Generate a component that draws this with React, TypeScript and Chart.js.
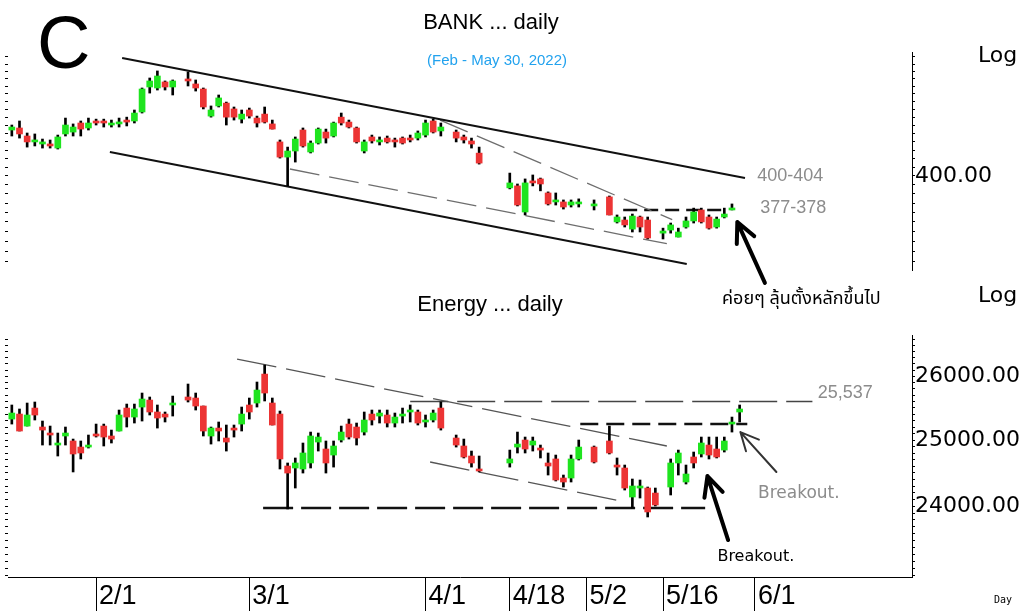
import React, { useEffect, useRef } from 'react';
import { Chart, registerables } from 'chart.js';

Chart.register(...registerables);

type OHLC = [number, number, number, number] | null; // open, high, low, close

// ---------- categories (weekday trading slots) ----------
const START = { y: 2022, m: 0, d: 17 };
const SLOT_COUNT = 118;
const tickLabels = ['2/1', '3/1', '4/1', '4/18', '5/2', '5/16', '6/1'];

// ---------- axis labels ----------
const bankAxisLabels = [400];
const energyAxisLabels = [24000, 25000, 26000];
const BANK_MIN = 340.8;
const BANK_MAX = 494.1;
const ENERGY_MIN = 22978;
const ENERGY_MAX = 26670;

// ---------- BANK daily OHLC ----------
const bankOHLC: OHLC[] = [
  [432.6, 436.3, 428.2, 434.8], [434.1, 439.3, 426.7, 429.7], [428.2, 430.4, 420.2, 423.9], [423.9, 429.7, 421.0, 425.3],
  [422.4, 426.0, 419.5, 423.9], [422.4, 425.3, 419.5, 421.0], [419.5, 428.9, 418.8, 427.5], [429.7, 441.5, 428.2, 436.3],
  [431.1, 437.1, 428.2, 434.8], [437.8, 439.3, 428.2, 433.3], [434.1, 441.5, 432.6, 437.8], [439.3, 440.7, 436.3, 437.8],
  [439.3, 440.7, 434.8, 437.8], [436.3, 440.0, 434.8, 437.1], [437.1, 441.5, 434.8, 438.5], [439.3, 442.2, 435.6, 438.5],
  [439.3, 447.6, 437.8, 445.3], [446.1, 464.7, 445.3, 463.9], [465.5, 472.7, 460.7, 470.3], [464.7, 478.4, 463.1, 474.3],
  [469.5, 470.3, 463.1, 465.5], [465.5, 471.1, 459.2, 470.3], null, [471.1, 477.6, 466.3, 470.3],
  [467.9, 471.1, 462.3, 464.7], [463.9, 464.7, 448.4, 449.9], [443.0, 450.7, 442.2, 447.6], [450.7, 459.2, 449.9, 456.9],
  [452.9, 453.7, 436.3, 442.2], [448.4, 449.9, 440.0, 442.2], [440.7, 447.6, 437.8, 444.5], [447.6, 449.1, 441.5, 443.0],
  [441.5, 443.0, 434.8, 437.8], [444.5, 449.9, 437.8, 438.5], [437.1, 440.0, 433.3, 433.3], [423.9, 425.3, 412.4, 413.1],
  [413.1, 420.2, 393.3, 417.4], [417.4, 427.5, 409.6, 426.0], [432.6, 434.1, 420.2, 421.0], [416.7, 424.6, 416.0, 423.1],
  [423.1, 434.1, 422.4, 433.3], [431.1, 433.3, 423.1, 426.7], [428.2, 438.5, 427.5, 437.8], [442.2, 445.3, 436.3, 437.8],
  [438.5, 440.0, 434.1, 434.8], [434.1, 434.8, 423.1, 423.9], [417.4, 425.3, 416.0, 423.9], [427.5, 428.9, 423.1, 424.6],
  [423.9, 427.5, 421.7, 425.3], [426.7, 428.2, 423.1, 423.9], [424.6, 426.7, 420.2, 423.9], [426.7, 427.5, 422.4, 423.1],
  [426.7, 428.9, 423.9, 425.3], [426.7, 431.9, 425.3, 430.4], [428.9, 440.0, 427.5, 437.8], [439.3, 440.7, 430.4, 431.1],
  [431.9, 437.8, 428.2, 434.8], null, [431.1, 432.6, 423.9, 426.7], [427.5, 428.9, 423.1, 425.3],
  [424.6, 426.7, 419.5, 422.4], [415.9, 420.2, 408.2, 408.9], null, null,
  null, [392.0, 402.0, 391.3, 395.3], [393.3, 394.6, 380.1, 380.7], [376.2, 398.0, 374.3, 395.3],
  [396.6, 400.7, 393.3, 395.3], [398.0, 398.6, 390.0, 394.6], [388.6, 389.3, 380.7, 381.4], [382.7, 388.6, 380.7, 384.0],
  [382.7, 384.0, 378.1, 379.4], [380.7, 384.0, 379.4, 382.7], [381.4, 384.7, 379.4, 382.0], null,
  [380.1, 384.0, 377.5, 381.4], null, [386.0, 386.6, 374.3, 374.3], [369.9, 374.3, 369.2, 373.0],
  [371.1, 373.0, 366.7, 368.0], [365.4, 374.9, 363.6, 373.6], [373.0, 373.6, 363.6, 366.7], [371.1, 373.0, 359.3, 359.9],
  null, [362.9, 366.0, 359.3, 364.2], [364.8, 369.2, 362.9, 368.0], [360.5, 366.0, 360.5, 363.6],
  [366.7, 373.0, 366.0, 370.5], [370.5, 378.7, 369.2, 376.2], [377.5, 378.7, 369.2, 369.9], [373.0, 374.3, 365.4, 366.0],
  [366.7, 373.0, 366.0, 371.7], [373.0, 378.7, 372.4, 374.9], [377.5, 381.4, 377.5, 378.7],
];

// ---------- ENERGY daily OHLC ----------
const energyOHLC: OHLC[] = [
  [25325, 25545, 25247, 25419], [25403, 25482, 25139, 25139], [25216, 25576, 25216, 25388], [25497, 25592, 25310, 25388],
  [25201, 25294, 24923, 25154], [25093, 25216, 24923, 25077], [24923, 25108, 24755, 24954], [25062, 25201, 24923, 25108],
  [24985, 25015, 24513, 24786], [24892, 24985, 24710, 24801], [24892, 25077, 24877, 24923], [25093, 25247, 25046, 25062],
  [25216, 25247, 24908, 25046], [25062, 25154, 24954, 25015], [25139, 25466, 25139, 25388], [25497, 25560, 25201, 25356],
  [25356, 25560, 25263, 25482], [25513, 25734, 25294, 25639], [25623, 25671, 25388, 25435], [25435, 25545, 25185, 25341],
  [25403, 25435, 25279, 25356], [25545, 25686, 25372, 25576], null, [25671, 25877, 25592, 25623],
  [25655, 25734, 25466, 25529], [25529, 25529, 25062, 25139], [25062, 25201, 24938, 25185], [25185, 25279, 24985, 25139],
  [25031, 25232, 24831, 24969], [25170, 25232, 25046, 25154], [25247, 25513, 25139, 25403], [25545, 25655, 25325, 25435],
  [25576, 25909, 25513, 25781], [26036, 26181, 25608, 25734], [25576, 25655, 25232, 25232], [25403, 25450, 24558, 24710],
  [24603, 24649, 23961, 24497], [24573, 24725, 24272, 24649], [24558, 24954, 24497, 24801], [24649, 25123, 24573, 25062],
  [24969, 25108, 24831, 25046], [24862, 24985, 24497, 24649], [24770, 24985, 24587, 24908], [25000, 25216, 24969, 25123],
  [25247, 25325, 25015, 25046], [25201, 25263, 24923, 25031], [25123, 25435, 25077, 25310], [25403, 25466, 25232, 25310],
  [25372, 25466, 25263, 25419], [25388, 25466, 25201, 25263], [25263, 25419, 25201, 25356], [25372, 25497, 25263, 25403],
  [25435, 25545, 25279, 25450], [25435, 25466, 25232, 25263], [25279, 25388, 25201, 25310], [25310, 25466, 25279, 25419],
  [25497, 25592, 25154, 25185], null, [25031, 25077, 24892, 24923], [24908, 25015, 24725, 24740],
  [24755, 24831, 24587, 24649], [24558, 24755, 24513, 24528], null, null,
  null, [24649, 24846, 24587, 24710], [24892, 25123, 24801, 24938], [25000, 25046, 24801, 24862],
  [24923, 25046, 24831, 24985], [24877, 24923, 24725, 24846], [24649, 24801, 24467, 24603], [24710, 24770, 24377, 24392],
  [24422, 24467, 24287, 24362], [24422, 24770, 24362, 24710], [24710, 25000, 24694, 24892], null,
  [24892, 24908, 24649, 24664], null, [24985, 25216, 24786, 24801], [24618, 24725, 24467, 24587],
  [24573, 24618, 24242, 24272], [24138, 24407, 23975, 24302], [24272, 24392, 24123, 24287], [24272, 24287, 23843, 23917],
  [24197, 24272, 24005, 24020], null, [24287, 24710, 24168, 24649], [24649, 24846, 24467, 24801],
  [24362, 24618, 24332, 24482], [24740, 24816, 24573, 24649], [24786, 25046, 24740, 24954], [24923, 25046, 24710, 24770],
  [24862, 25046, 24725, 24740], [24846, 25046, 24816, 24985], [25247, 25356, 25123, 25263], [25435, 25545, 25279, 25482],
];

// ---------- drawn trend lines (slot index, value) ----------
const bankUpperTrend: [number, number][] = [[14.4, 489.1], [95.7, 398.6]];
const bankLowerTrend: [number, number][] = [[12.8, 416.7], [88.1, 344.3]];
const bankGrayUpper: [number, number][] = [[55.9, 440.0], [86.2, 371.3]];
const bankGrayLower: [number, number][] = [[36.3, 404.8], [85.5, 356.4]];
const bankResistance: [number, number][] = [[79.8, 377.5], [93.0, 377.5]];

const energyGrayTop: [number, number][] = [[29.4, 26278], [85.5, 24908]];
const energyGrayLower: [number, number][] = [[54.6, 24664], [80.1, 24063]];
const energyTarget: [number, number][] = [[52.0, 25600], [104.5, 25600]];
const energyResistance: [number, number][] = [[74.2, 25247], [96.0, 25247]];
const energySupport: [number, number][] = [[32.8, 23975], [90.5, 23975]];

// ---------- annotations ----------
const bankArrow: [number, number][] = [[98.3, 333.4], [94.7, 369.8]];
const energyArrowBlack: [number, number][] = [[93.5, 23507], [90.8, 24452]];
const energyArrowGray: [number, number][] = [[99.8, 24513], [95.1, 25123]];

const GREEN = '#1fe41f';
const RED = '#ec3434';
const GRAY_TEXT = '#8c8c8c';

function buildSlots(): string[] {
  const out: string[] = [];
  const d = new Date(START.y, START.m, START.d);
  while (out.length < SLOT_COUNT) {
    const wd = d.getDay();
    if (wd !== 0 && wd !== 6) out.push(`${d.getMonth() + 1}/${d.getDate()}`);
    d.setDate(d.getDate() + 1);
  }
  return out;
}
const SLOTS = buildSlots();
const tickIndex = tickLabels.map((l) => SLOTS.indexOf(l));

function minorTicks(center: number, step: number, min: number, max: number) {
  const out: number[] = [];
  for (let v = center; v <= max; v += step) out.push(v);
  for (let v = center - step; v >= min; v -= step) out.unshift(v);
  return out;
}
const bankMinor = minorTicks(400, 6, BANK_MIN, BANK_MAX);
const energyMinor = minorTicks(25000, 100, ENERGY_MIN, ENERGY_MAX);

function candles(ohlc: OHLC[]) {
  const bodies: any[] = [];
  const wicks: any[] = [];
  ohlc.forEach((d, i) => {
    if (!d) return;
    const [o, h, l, c] = d;
    bodies.push({ x: i, y: [Math.min(o, c), Math.max(o, c)], up: c >= o });
    wicks.push({ x: i, y: [l, h] });
  });
  return [
    {
      type: 'bar', data: bodies, grouped: false, barThickness: 6, minBarLength: 2, order: 0, borderWidth: 0,
      backgroundColor: (ctx: any) => (ctx.raw && ctx.raw.up ? GREEN : RED),
    },
    { type: 'bar', data: wicks, grouped: false, barThickness: 2, order: 1, borderWidth: 0, backgroundColor: '#000' },
  ];
}

function line(pts: [number, number][], color: string, width: number, dash: number[] = []) {
  return {
    type: 'line', data: pts.map(([x, y]) => ({ x, y })), borderColor: color, borderWidth: width,
    borderDash: dash, pointRadius: 0, fill: false, tension: 0, order: 2,
  };
}

function yAxes(min: number, max: number, minor: number[], labelled: number[]) {
  const setTicks = (s: any) => { s.ticks = minor.map((v) => ({ value: v })); };
  return {
    y: {
      type: 'logarithmic', position: 'right', min, max, bounds: 'data',
      afterBuildTicks: setTicks,
      afterFit: (s: any) => { s.width = 107; },
      ticks: {
        autoSkip: false, padding: 0, color: '#000',
        font: { family: 'DejaVu Sans', size: 22 },
        callback: (v: any) => (labelled.includes(v) ? Number(v).toFixed(2) : ''),
      },
      grid: { drawOnChartArea: false, tickLength: 3, color: '#000' },
      border: { color: '#000', width: 1 },
    },
    yl: {
      type: 'logarithmic', position: 'left', min, max, bounds: 'data',
      afterBuildTicks: setTicks,
      afterFit: (s: any) => { s.width = 3; },
      ticks: { display: false },
      grid: { drawOnChartArea: false, tickLength: 3, color: '#000' },
      border: { display: false },
    },
  };
}

function px(chart: any, p: [number, number]) {
  return [chart.scales.x.getPixelForValue(p[0]), chart.scales.y.getPixelForValue(p[1])];
}

function drawText(ctx: CanvasRenderingContext2D, s: string, x: number, y: number, font: string, color: string,
  align: CanvasTextAlign = 'left', baseline: CanvasTextBaseline = 'middle') {
  ctx.font = font; ctx.fillStyle = color; ctx.textAlign = align; ctx.textBaseline = baseline;
  ctx.fillText(s, x, y);
}

function drawArrow(ctx: CanvasRenderingContext2D, from: number[], to: number[], width: number, color: string, head = 20) {
  const [x0, y0] = from; const [x1, y1] = to;
  const a = Math.atan2(y1 - y0, x1 - x0);
  ctx.strokeStyle = color; ctx.lineWidth = width; ctx.lineCap = 'round'; ctx.setLineDash([]);
  ctx.beginPath();
  ctx.moveTo(x0, y0); ctx.lineTo(x1, y1);
  ctx.moveTo(x1, y1); ctx.lineTo(x1 - head * Math.cos(a - 0.45), y1 - head * Math.sin(a - 0.45));
  ctx.moveTo(x1, y1); ctx.lineTo(x1 - head * Math.cos(a + 0.45), y1 - head * Math.sin(a + 0.45));
  ctx.stroke();
}

const THAI_FONT = "'Noto Sans Thai', 'Tahoma', 'Noto Sans', 'DejaVu Sans', sans-serif";

const topOverlay = {
  id: 'topOverlay',
  afterDraw(chart: any) {
    const ctx: CanvasRenderingContext2D = chart.ctx;
    ctx.save();
    drawText(ctx, 'C', 37, 68, "74px 'Liberation Sans', Arial, sans-serif", '#000', 'left', 'alphabetic');
    drawText(ctx, 'BANK ... daily', 491, 29, "22px 'Liberation Sans', Arial, sans-serif", '#000', 'center', 'alphabetic');
    drawText(ctx, '(Feb - May 30, 2022)', 497, 65, "15px 'Liberation Sans', Arial, sans-serif", '#22a2ee', 'center', 'alphabetic');
    drawText(ctx, 'Log', 978, 56, "22px 'DejaVu Sans', sans-serif", '#000', 'left', 'middle');
    const [lx1, ly1] = px(chart, [97.3, 400]);
    drawText(ctx, '400-404', lx1, ly1, "18px 'Liberation Sans', Arial, sans-serif", GRAY_TEXT);
    const [lx2, ly2] = px(chart, [97.7, 378.8]);
    drawText(ctx, '377-378', lx2, ly2, "18px 'Liberation Sans', Arial, sans-serif", GRAY_TEXT);
    const [tx, ty] = px(chart, [92.7, 323.8]);
    drawText(ctx, 'ค่อยๆ ลุ้นตั้งหลักขึ้นไป', tx, ty, `18px ${THAI_FONT}`, '#000');
    drawArrow(ctx, px(chart, bankArrow[0]), px(chart, bankArrow[1]), 4, '#000', 22);
    ctx.restore();
  },
};

const OFF = 280;
const bottomOverlay = {
  id: 'bottomOverlay',
  afterDraw(chart: any) {
    const ctx: CanvasRenderingContext2D = chart.ctx;
    ctx.save();
    drawText(ctx, 'Energy ... daily', 490, 311 - OFF, "22px 'Liberation Sans', Arial, sans-serif", '#000', 'center', 'alphabetic');
    drawText(ctx, 'Log', 978, 296 - OFF, "22px 'DejaVu Sans', sans-serif", '#000', 'left', 'middle');
    drawText(ctx, 'Day', 994, 600 - OFF, "10px 'DejaVu Sans Mono', monospace", '#000', 'left', 'middle');
    const [a, b] = px(chart, [105.2, 25734]);
    drawText(ctx, '25,537', a, b, "18px 'Liberation Sans', Arial, sans-serif", GRAY_TEXT);
    const [c, d] = px(chart, [97.4, 24182]);
    drawText(ctx, 'Breakout.', c, d, "17px 'DejaVu Sans', sans-serif", GRAY_TEXT);
    const [e, f] = px(chart, [92.1, 23271]);
    drawText(ctx, 'Breakout.', e, f, "16px 'DejaVu Sans', sans-serif", '#000');
    drawArrow(ctx, px(chart, energyArrowBlack[0]), px(chart, energyArrowBlack[1]), 4, '#000', 22);
    drawArrow(ctx, px(chart, energyArrowGray[0]), px(chart, energyArrowGray[1]), 2, '#333', 20);
    ctx.restore();
  },
};

function baseOptions(padding: any) {
  return {
    responsive: false, animation: false, devicePixelRatio: 1, events: [],
    layout: { padding },
    plugins: { legend: { display: false }, tooltip: { enabled: false }, title: { display: false } },
  };
}

export default function App() {
  const topRef = useRef<HTMLCanvasElement>(null);
  const botRef = useRef<HTMLCanvasElement>(null);

  useEffect(() => {
    const xHidden = {
      type: 'linear', display: false, min: -0.5, max: SLOT_COUNT - 0.5, bounds: 'data',
      offset: false, grid: { offset: false },
    };
    const topChart = new Chart(topRef.current as HTMLCanvasElement, {
      type: 'bar',
      data: {
        datasets: [
          ...candles(bankOHLC),
          line(bankUpperTrend, '#111', 2),
          line(bankLowerTrend, '#111', 2),
          line(bankGrayUpper, '#6e6e6e', 1.3, [30, 10]),
          line(bankGrayLower, '#6e6e6e', 1.3, [30, 10]),
          line(bankResistance, '#111', 2.5, [14, 7]),
        ] as any,
      },
      options: {
        ...baseOptions({ top: 52, bottom: 50, left: 5, right: 0 }),
        scales: { x: xHidden, ...yAxes(BANK_MIN, BANK_MAX, bankMinor, bankAxisLabels) },
      } as any,
      plugins: [topOverlay],
    });

    const botChart = new Chart(botRef.current as HTMLCanvasElement, {
      type: 'bar',
      data: {
        datasets: [
          ...candles(energyOHLC),
          line(energyGrayTop, '#555', 1.3, [40, 10]),
          line(energyGrayLower, '#555', 1.3, [40, 10]),
          line(energyTarget, '#444', 1.5, [38, 9]),
          line(energyResistance, '#111', 2.5, [18, 8]),
          line(energySupport, '#111', 2.5, [30, 8]),
        ] as any,
      },
      options: {
        ...baseOptions({ top: 55, bottom: 0, left: 5, right: 0 }),
        scales: {
          x: {
            type: 'linear', position: 'bottom', min: -0.5, max: SLOT_COUNT - 0.5, bounds: 'data', offset: false,
            afterBuildTicks: (s: any) => { s.ticks = tickIndex.map((v) => ({ value: v })); },
            afterFit: (s: any) => { s.height = 34; },
            ticks: {
              autoSkip: false, maxRotation: 0, align: 'start', labelOffset: 3, padding: -31, color: '#000',
              font: { family: "'Liberation Sans', Arial, sans-serif", size: 27 },
              callback: (v: any) => { const k = tickIndex.indexOf(v); return k >= 0 ? tickLabels[k] : ''; },
            },
            grid: { drawOnChartArea: false, tickLength: 34, color: '#000', offset: false },
            border: { color: '#000', width: 1 },
          },
          ...yAxes(ENERGY_MIN, ENERGY_MAX, energyMinor, energyAxisLabels),
        },
      } as any,
      plugins: [bottomOverlay],
    });

    return () => { topChart.destroy(); botChart.destroy(); };
  }, []);

  return (
    <div style={{ position: 'fixed', left: 0, top: 0, width: 1019, height: 611, background: '#fff', overflow: 'hidden' }}>
      <canvas ref={topRef} width={1019} height={320}
        style={{ position: 'absolute', left: 0, top: 0, width: 1019, height: 320 }} />
      <canvas ref={botRef} width={1019} height={331}
        style={{ position: 'absolute', left: 0, top: OFF, width: 1019, height: 331 }} />
    </div>
  );
}
